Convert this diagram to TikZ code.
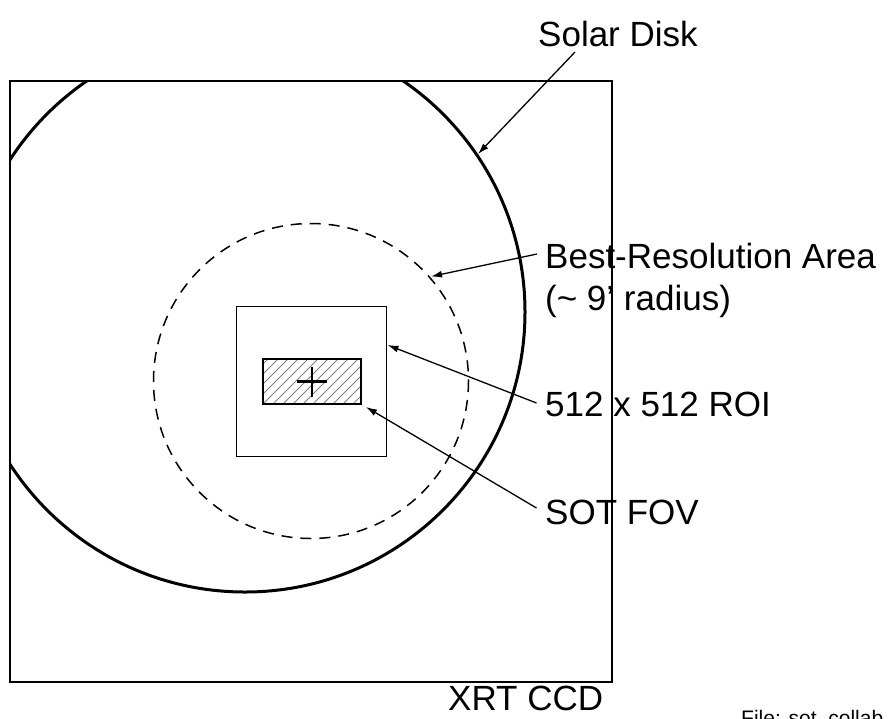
\documentclass[tikz,border=0pt]{standalone}
\usepackage{fontspec}
\setmainfont{Liberation Sans}
\usetikzlibrary{arrows.meta}
\begin{document}
\begin{tikzpicture}[x=1pt,y=-1pt,
  lbl/.style={inner sep=0pt,anchor=base west,font=\fontsize{35}{40}\selectfont},
  arr/.style={line width=1.3pt,-{Latex[length=11pt,width=7pt]}},
  thinbox/.style={line width=1.8pt},
  hatchline/.style={gray,line width=0.9pt}]
\useasboundingbox (0,0) rectangle (888,718);
% CCD box
\coordinate (ccdnw) at (10,81);
\coordinate (ccdse) at (612,682);
\draw[thinbox] (ccdnw) rectangle (ccdse);
% solar disk
\begin{scope}
  \clip (ccdnw) rectangle (ccdse);
  \draw[line width=3pt] (245,312) circle[radius=280];
\end{scope}
% best resolution area
\draw[line width=1.5pt,dash pattern=on 11pt off 8pt] (311,381) circle[radius=157.5];
% ROI box
\coordinate (roinw) at (236.5,306.5);
\coordinate (roise) at (386.5,456.5);
\draw[line width=1.6pt] (roinw) rectangle (roise);
% SOT FOV hatched
\coordinate (sotnw) at (263,359);
\coordinate (sotse) at (361,404);
\begin{scope}
  \clip (sotnw) rectangle (sotse);
  \foreach \i in {-50,-40,...,110}
    \draw[hatchline] (263+\i,404) -- ++(50,-50);
\end{scope}
\draw[line width=1.6pt] (sotnw) rectangle (sotse);
% cross
\draw[line width=2.4pt] (297,381.5) -- (327,381.5);
\draw[line width=2.4pt] (312,366.5) -- (312,396.5);
% labels
\node[lbl] (sd) at (538,46) {Solar Disk};
\node[lbl] (bra) at (545,268) {Best-Resolution Area};
\node[lbl] (brb) at (545,310) {(\textasciitilde{} 9' radius)};
\node[lbl] (roi) at (545,416.7) {512 x 512 ROI};
\node[lbl] (sot) at (545,524) {SOT FOV};
\node[lbl] (ccd) at (448,710) {XRT CCD};
\node[inner sep=0pt,anchor=base west,font=\fontsize{21}{24}\selectfont] (file) at (741,725) {File: sot\_collab};
% arrows
\coordinate (sdfrom) at (575,52);
\coordinate (sdtip) at (478,154);
\coordinate (brfrom) at (537,254);
\coordinate (brtip) at (431,276.5);
\coordinate (roifrom) at (536.5,403);
\coordinate (roitip) at (387.5,345);
\coordinate (sotfrom) at (536.5,508);
\coordinate (sottip) at (366,407);
\draw[arr] (sdfrom) -- (sdtip);
\draw[arr] (brfrom) -- (brtip);
\draw[arr] (roifrom) -- (roitip);
\draw[arr] (sotfrom) -- (sottip);
\end{tikzpicture}
\end{document}
